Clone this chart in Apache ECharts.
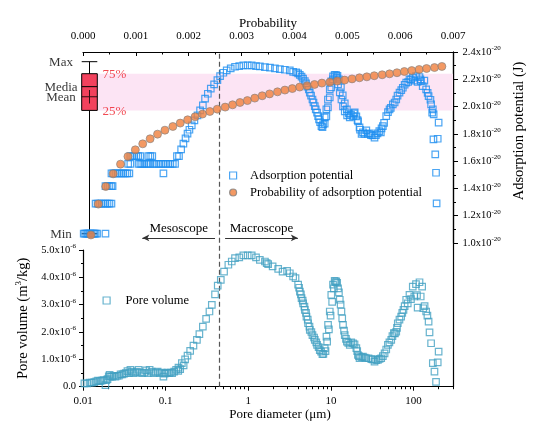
<!DOCTYPE html>
<html><head><meta charset="utf-8">
<script src="https://cdn.jsdelivr.net/npm/echarts@6/dist/echarts.min.js"></script>
<style>html,body{margin:0;padding:0;background:#fff}#c{width:540px;height:431px}</style>
</head><body><div id="c"></div>
<script>
// ---------------- data ----------------
// Adsorption potential (J, x1e-20) vs pore diameter (um) — top panel squares
const adsorptionPoints = [
[0.0102,1.068],[0.0106,1.068],[0.011,1.068],[0.0114,1.068],[0.0118,1.068],[0.0122,1.068],[0.0127,1.068],[0.0132,1.068],[0.0137,1.068],[0.0142,1.068],[0.0148,1.068],[0.0187,1.068],
[0.0142,1.288],[0.015,1.288],[0.0158,1.288],[0.0167,1.288],[0.0177,1.288],[0.0187,1.288],[0.0198,1.288],[0.0209,1.288],[0.0221,1.288],
[0.0187,1.417],[0.0198,1.417],[0.0209,1.417],[0.0221,1.417],[0.0228,1.417],
[0.0221,1.51],[0.0233,1.51],[0.0247,1.51],[0.0261,1.51],[0.0276,1.51],[0.0291,1.51],[0.0308,1.51],[0.0326,1.51],[0.0344,1.51],[0.0364,1.51],[0.094,1.51],
[0.0352,1.58],[0.0374,1.58],[0.047,1.58],[0.0494,1.58],[0.052,1.58],[0.055,1.58],[0.058,1.58],[0.0617,1.58],[0.0652,1.58],[0.0715,1.58],[0.0765,1.58],[0.082,1.58],[0.0875,1.58],[0.0935,1.58],[0.1,1.58],[0.107,1.58],[0.114,1.58],[0.122,1.58],[0.13,1.58],
[0.0374,1.637],[0.0395,1.637],[0.0418,1.637],[0.0442,1.637],[0.0467,1.637],[0.0494,1.637],[0.0617,1.637],[0.0652,1.637],[0.0689,1.637],[0.137,1.637],[0.145,1.637],
[0.154,1.686],[0.164,1.728],[0.174,1.767],[0.184,1.801],[0.194,1.83],[0.207,1.862],[0.223,1.899],[0.243,1.935],[0.261,1.972],[0.282,2.009],[0.3,2.058],[0.324,2.094],[0.352,2.131],[0.386,2.162],[0.423,2.194],[0.456,2.223],[0.499,2.248],[0.548,2.265],[0.613,2.28],[0.691,2.292],[0.778,2.297],[0.871,2.302],[0.984,2.302],[1.1,2.302],[1.24,2.297],[1.38,2.294],[1.59,2.289],[1.83,2.285],[2.1,2.28],[2.41,2.275],[2.77,2.27],[3.18,2.265],[3.49,2.254],
[3.8,2.25],[4.01,2.243],[4.2,2.232],[4.41,2.219],[4.6,2.205],[4.83,2.187],[5.0,2.17],[5.2,2.146],[5.4,2.125],[5.55,2.102],[5.75,2.08],[5.98,2.052],[6.15,2.03],[6.38,2.003],[6.55,1.98],[6.8,1.955],[7.0,1.93],[7.18,1.906],[7.4,1.885],[7.68,1.857],[7.9,1.85],
[8.03,1.869],[8.41,1.921],[8.41,1.875],[8.8,1.979],[8.8,1.928],[9.2,2.052],[9.2,1.994],[9.68,2.126],[9.68,2.067],[10.1,2.184],[10.1,2.14],[10.6,2.221],[10.6,2.2],[11.1,2.232],[11.6,2.231],[12.0,2.225],
[11.8,2.212],[12.2,2.163],[12.5,2.199],[12.8,2.104],[13.2,2.141],[13.4,2.052],[13.9,2.082],[14.0,2.001],[14.7,1.965],[14.7,2.023],[15.6,1.979],[15.7,1.935],[16.5,1.95],[16.9,1.921],[17.5,1.94],[18.5,1.93],[19.0,1.95],[19.4,1.957],[20.3,1.928],[21.0,1.9],[21.3,1.891],[22.2,1.847],[22.5,1.83],[23.5,1.8],[24.4,1.811],[25.5,1.8],[26.8,1.825],[28,1.8],[29.4,1.803],[30.5,1.79],[31.9,1.789],[33.7,1.772],[35,1.79],[36.6,1.803],[38.5,1.82],[40.2,1.811],[41,1.84],[42.5,1.857],[44,1.88],[46.7,1.93],[49,1.96],[51.2,1.979],[53,1.99],[56.1,2.016],[59,2.03],[61.7,2.052],[64,2.08],[67.6,2.102],[71,2.12],[74.1,2.138],[78,2.16],[81.5,2.175],[86,2.18],[89.2,2.199],[93,2.2],[97.8,2.212],[102,2.19],[107,2.223],[112,2.18],[118,2.216],[121,2.2],[123,2.187],[129,2.15],[135,2.19],[142,2.126],[148,2.1],[152,2.077],[160,2.05],[163,2.016],[168,1.955],[171,1.979],[175,1.943],[174,1.759],[183,1.649],[187,1.515],[190,1.29],[196,1.764],[201,1.882]
];

// Probability of adsorption potential: [probability, adsorption potential x1e-20]
const probabilityPoints = [
[0.00015,1.059],[0.00029,1.285],[0.00043,1.414],[0.00057,1.507],[0.00071,1.578],[0.00085,1.634],[0.00099,1.683],[0.00113,1.727],[0.00127,1.764],[0.00141,1.798],
[0.00155,1.827],[0.00170,1.854],[0.00184,1.879],[0.00198,1.903],[0.00212,1.925],[0.00226,1.945],[0.00240,1.964],[0.00254,1.981],[0.00269,1.996],[0.00283,2.013],
[0.00297,2.030],[0.00311,2.044],[0.00325,2.062],[0.00339,2.079],[0.00353,2.093],[0.00368,2.108],[0.00382,2.121],[0.00396,2.132],[0.00410,2.143],[0.00424,2.152],
[0.00438,2.162],[0.00452,2.172],[0.00467,2.179],[0.00481,2.187],[0.00495,2.194],[0.00509,2.203],[0.00523,2.211],[0.00537,2.218],[0.00551,2.226],[0.00566,2.233],
[0.00580,2.240],[0.00594,2.248],[0.00608,2.257],[0.00622,2.264],[0.00636,2.272],[0.00650,2.279],[0.00665,2.286],[0.00679,2.294]
];

// Pore volume (x1e-6 m3/kg) vs pore diameter (um) — bottom panel
const poreVolumePoints = [
[0.0104,0.12],[0.0112,0.12],[0.012,0.15],[0.0128,0.15],[0.0137,0.17],[0.0145,0.2],[0.0152,0.22],[0.016,0.2],[0.0168,0.22],[0.0177,0.24],[0.0187,0.06],[0.0192,0.24],[0.0198,0.28],[0.0205,0.38],[0.021,0.43],[0.0215,0.37],[0.0225,0.37],[0.0235,0.4],[0.0247,0.37],[0.026,0.4],[0.0272,0.4],[0.0285,0.45],[0.03,0.45],[0.0315,0.48],[0.033,0.5],[0.0345,0.57],[0.036,0.5],[0.0375,0.62],[0.039,0.55],[0.041,0.5],[0.043,0.52],[0.045,0.55],[0.047,0.62],[0.049,0.52],[0.052,0.5],[0.055,0.52],[0.058,0.6],[0.061,0.5],[0.064,0.62],[0.068,0.55],[0.072,0.5],[0.076,0.52],[0.08,0.55],[0.085,0.5],[0.09,0.52],[0.094,0.37],[0.097,0.48],[0.1,0.5],[0.105,0.52],[0.11,0.5],[0.115,0.52],[0.12,0.5],[0.127,0.55],[0.134,0.62],[0.142,0.58],
[0.143,0.7],[0.15,0.64],[0.157,0.86],[0.165,0.78],[0.172,1.0],[0.184,1.14],[0.198,1.31],[0.217,1.5],[0.239,1.71],[0.256,1.92],[0.282,2.2],[0.309,2.48],[0.339,2.75],[0.362,2.99],[0.396,3.38],[0.427,3.7],[0.465,3.91],[0.509,4.21],[0.574,4.46],[0.631,4.58],[0.691,4.7],[0.778,4.73],[0.871,4.8],[0.984,4.8],[1.1,4.8],[1.24,4.73],[1.38,4.64],[1.59,4.58],[1.67,4.52],[1.74,4.48],[1.97,4.4],[2.3,4.31],[2.6,4.21],[2.95,4.24],[3.18,4.15],[3.49,4.03],[3.73,3.97],
[4.01,3.73],[4.21,3.48],[4.41,3.24],[4.61,3.05],[4.83,2.81],[5.06,2.56],[5.29,2.32],[5.55,2.08],[5.98,1.89],[6.38,1.71],[6.8,1.53],[7.33,1.34],[7.89,1.19],
[4.12,3.62],[4.33,3.38],[4.55,3.15],[4.78,2.93],[5.0,2.7],[5.24,2.45],[5.5,2.2],[5.8,2.0],[6.25,1.8],[6.65,1.62],[7.1,1.45],[7.6,1.28],[8.1,1.2],
[8.41,1.41],[8.83,1.83],[9.23,2.26],[9.68,2.75],[10.1,3.36],[10.6,3.73],[11.1,3.87],[11.6,3.85],
[8.6,1.3],[9.0,1.65],[9.45,2.1],[9.9,2.6],[10.35,3.1],[10.85,3.6],[11.35,3.82],[11.9,3.8],
[12.2,3.6],[12.8,3.18],[13.4,2.75],[14.0,2.26],[14.7,1.89],[15.6,1.65],[16.9,1.53],[18.5,1.59],[20.3,1.41],[21.2,1.16],[22.2,1.04],[24.4,1.1],[26.8,1.04],[30.8,1.01],[33.7,0.92],[37.0,0.98],[40.6,1.04],[44.6,1.22],[48.9,1.53],[53.7,1.71],[57.7,1.96],[61.7,2.01],[64.4,2.32],[70.8,2.56],[75.5,2.81],[81.5,3.18],[89.2,3.36],[97.8,3.66],[107,3.75],[118,3.82],[127,3.66],[112,2.89],[131,2.87],[142,2.75],[152,2.38],[156,1.99],[163,1.59],[201,1.28],[171,0.86],[196,0.89],[179,0.55],[187,0.18],
[12.5,3.45],[13.1,3.0],[13.7,2.5],[14.4,2.05],[15.2,1.75],[16.2,1.6],[17.6,1.62],[19.3,1.55],[20.8,1.3],[21.8,1.12],[23.3,1.08],[25.6,1.06],[28.5,1.04],[32,1.0],[35.3,0.97],[38.8,1.02],[42.5,1.12],[46.7,1.36],[51,1.62],[55.5,1.85],[59.5,1.95],[63,2.15],[67.5,2.45],[73,2.7],[78,2.95],[85,3.05],[93,3.2],[102,3.3],[110,3.35],[122,3.3],[136,2.95],[147,2.6]
];

// Box plot of adsorption potential: [min, Q1, median, Q3, max], mean
const boxProbPosition = 0.000123;
const boxStats = [1.068, 1.972, 2.146, 2.241, 2.329];
const boxMean = 2.072;
const boxSideLabels = ['Max', 'Media', 'Mean', 'Min'];
const boxSideValues = [2.329, 2.146, 2.072, 1.068];
const quartileLabels = ['75%', '25%'];
const quartileValues = [2.241, 1.972];
const bandProbStart = 0.00028;

// annotations
const scaleBoundary = 0.45;          // um, dashed line
const arrowLevel = 1.037;            // adsorption potential level of the arrows
const mesoArrow = [0.0522, 0.396];   // um
const macroArrow = [0.524, 3.98];    // um

// tick values
const probTicks = {min: 0, max: 0.007, interval: 0.001};
const potentialTicks = {min: 1.0, max: 2.4, interval: 0.2};
const volumeTicks = {min: 0, max: 5e-6, interval: 1e-6};
const diameterRange = [0.01, 300];
const diameterMajor = [0.01, 0.1, 1, 10, 100];
const diameterMinor = [0.02,0.03,0.04,0.05,0.06,0.07,0.08,0.09,0.2,0.3,0.4,0.5,0.6,0.7,0.8,0.9,2,3,4,5,6,7,8,9,20,30,40,50,60,70,80,90,200,300];

// ---------------- chart ----------------
const FONT = '"Liberation Serif","Times New Roman",serif';
const BLACK = '#000';
const axisLine = {show: true, onZero: false, lineStyle: {color: BLACK, width: 1.2}};
const supRich = {
  a: {fontFamily: FONT, fontSize: 10.5, color: BLACK, lineHeight: 14},
  b: {fontFamily: FONT, fontSize: 7, color: BLACK, lineHeight: 7, verticalAlign: 'top'}
};
const gridBase = {left: 83, right: 87, containLabel: false, outerBoundsMode: 'none'};
const logLo = Math.log10(diameterRange[0]), logHi = Math.log10(diameterRange[1]);

const chart = echarts.init(document.getElementById('c'), null, {renderer: 'canvas'});
chart.setOption({
  animation: false,
  backgroundColor: '#fff',
  textStyle: {fontFamily: FONT},
  grid: [
    Object.assign({top: 52, height: 191}, gridBase),
    Object.assign({top: 250, height: 136.7}, gridBase),
    Object.assign({top: 52, height: 334.7}, gridBase)
  ],
  legend: [
    {left: 229, top: 169, orient: 'vertical', padding: 0, itemWidth: 7, itemHeight: 7, itemGap: 4, selectedMode: false,
     itemStyle: {borderWidth: 1.2},
     textStyle: {fontFamily: FONT, fontSize: 12.5, color: BLACK, padding: [0, 0, 0, 8.5]},
     data: ['Adsorption potential', 'Probability of adsorption potential']},
    {left: 102.5, top: 294, orient: 'vertical', padding: 0, itemWidth: 7, itemHeight: 7, selectedMode: false,
     itemStyle: {borderWidth: 1.2},
     textStyle: {fontFamily: FONT, fontSize: 12.5, color: BLACK, padding: [0, 0, 0, 10.5]},
     data: ['Pore volume']}
  ],
  xAxis: [
    {gridIndex: 0, type: 'log', logBase: 10, min: diameterRange[0], max: diameterRange[1], show: false},
    {gridIndex: 0, type: 'value', position: 'top', min: probTicks.min, max: probTicks.max, interval: probTicks.interval,
     name: 'Probability', nameLocation: 'middle', nameGap: 20,
     nameTextStyle: {fontFamily: FONT, fontSize: 13, color: BLACK},
     axisLine: axisLine,
     axisTick: {show: true, inside: true, length: 4, lineStyle: {color: BLACK, width: 1}},
     minorTick: {show: true, splitNumber: 2, length: 2.5, lineStyle: {color: BLACK, width: 1}},
     axisLabel: {fontFamily: FONT, fontSize: 11, color: BLACK, margin: 10, formatter: v => v.toFixed(3)},
     splitLine: {show: false}},
    {gridIndex: 1, type: 'log', logBase: 10, min: diameterRange[0], max: diameterRange[1], position: 'bottom',
     name: 'Pore diameter (\u03bcm)', nameLocation: 'middle', nameGap: 19.5,
     nameTextStyle: {fontFamily: FONT, fontSize: 13, color: BLACK, padding: [0, 0, 0, 24]},
     axisLine: axisLine, axisTick: {show: false}, splitLine: {show: false},
     axisLabel: {fontFamily: FONT, fontSize: 11, color: BLACK, margin: 9,
       formatter: v => {
         const l = Math.log10(v), k = Math.round(l);
         if (Math.abs(l - k) > 1e-6) return '';
         return k < 0 ? Math.pow(10, k).toFixed(-k) : String(Math.round(Math.pow(10, k)));
       }}},
    {gridIndex: 1, type: 'value', min: logLo, max: logHi, position: 'bottom',
     axisLine: {show: false, onZero: false}, axisLabel: {show: false}, splitLine: {show: false},
     axisTick: {show: true, length: 4, customValues: diameterMajor.map(Math.log10), lineStyle: {color: BLACK, width: 1}}},
    {gridIndex: 1, type: 'value', min: logLo, max: logHi, position: 'bottom',
     axisLine: {show: false, onZero: false}, axisLabel: {show: false}, splitLine: {show: false},
     axisTick: {show: true, length: 2.5, customValues: diameterMinor.map(Math.log10), lineStyle: {color: BLACK, width: 1}}},
    {gridIndex: 2, type: 'log', logBase: 10, min: diameterRange[0], max: diameterRange[1], show: false}
  ],
  yAxis: [
    {gridIndex: 0, type: 'value', position: 'right', min: potentialTicks.min, max: potentialTicks.max, interval: potentialTicks.interval,
     name: 'Adsorption potential (J)', nameLocation: 'middle', nameGap: 46,
     nameTextStyle: {fontFamily: FONT, fontSize: 14.5, color: BLACK, padding: [0, 0, 0, 33]},
     axisLine: axisLine,
     axisTick: {show: true, length: 5, lineStyle: {color: BLACK, width: 1}},
     minorTick: {show: true, splitNumber: 2, length: 3, lineStyle: {color: BLACK, width: 1}},
     axisLabel: {margin: 9.5, rich: supRich, formatter: v => '{a|' + v.toFixed(1) + 'x10}{b|-20}'},
     splitLine: {show: false}},
    {gridIndex: 1, type: 'value', position: 'left', min: volumeTicks.min, max: volumeTicks.max, interval: volumeTicks.interval,
     name: '{a|Pore volume (m}{s|3}{a|/kg)}', nameLocation: 'middle', nameGap: 47,
     nameTextStyle: {fontFamily: FONT, fontSize: 14.5, color: BLACK, rich: {
       a: {fontFamily: FONT, fontSize: 14.5, color: BLACK, lineHeight: 18},
       s: {fontFamily: FONT, fontSize: 9, color: BLACK, lineHeight: 9, verticalAlign: 'top'}}},
     axisLine: axisLine,
     axisTick: {show: true, length: 4, lineStyle: {color: BLACK, width: 1}},
     minorTick: {show: true, splitNumber: 2, length: 2, lineStyle: {color: BLACK, width: 1}},
     axisLabel: {margin: 7, fontFamily: FONT, fontSize: 10.5, color: BLACK, rich: supRich,
       formatter: v => v === 0 ? '{a|0.0}' : '{a|' + (v * 1e6).toFixed(1) + 'x10}{b|-6}'},
     splitLine: {show: false}},
    {gridIndex: 2, type: 'value', position: 'right', min: 0, max: 1, axisLine: axisLine,
     axisTick: {show: false}, axisLabel: {show: false}, splitLine: {show: false}}
  ],
  series: [
    {name: 'box', type: 'boxplot', xAxisIndex: 1, yAxisIndex: 0, z: 3,
     boxWidth: [15.6, 15.6],
     itemStyle: {color: '#f2415d', borderColor: BLACK, borderWidth: 1},
     emphasis: {disabled: true},
     data: [[boxProbPosition].concat(boxStats)]},
    {name: 'mean', type: 'scatter', xAxisIndex: 1, yAxisIndex: 0, z: 4, silent: true,
     symbol: 'path://M0,6.5H16V7.5H0Z M7.5,0H8.5V14H7.5Z', symbolSize: [15.6, 13.4],
     itemStyle: {color: BLACK}, data: [[boxProbPosition, boxMean]]},
    {name: 'boxLabels', type: 'scatter', xAxisIndex: 1, yAxisIndex: 0, z: 6, silent: true,
     symbolSize: 1, itemStyle: {color: 'rgba(0,0,0,0)'},
     label: {show: true, position: 'inside', offset: [-28.5, 0.8], formatter: '{b}', fontFamily: FONT, fontSize: 13, color: BLACK},
     data: boxSideLabels.map((n, i) => ({name: n, value: [boxProbPosition, boxSideValues[i]]}))},
    {name: 'quartileLabels', type: 'scatter', xAxisIndex: 1, yAxisIndex: 0, z: 6, silent: true,
     symbolSize: 1, itemStyle: {color: 'rgba(0,0,0,0)'},
     label: {show: true, position: 'inside', offset: [25, 1], formatter: '{b}', fontFamily: FONT, fontSize: 13, color: '#ee1c25'},
     data: quartileLabels.map((n, i) => ({name: n, value: [boxProbPosition, quartileValues[i]]}))},
    {name: 'Adsorption potential', type: 'scatter', xAxisIndex: 0, yAxisIndex: 0, z: 5, clip: false,
     symbol: 'rect', symbolSize: 6.5,
     itemStyle: {color: 'rgba(255,255,255,0)', borderColor: '#1e8ef0', borderWidth: 1.2},
     data: adsorptionPoints},
    {name: 'Probability of adsorption potential', type: 'scatter', xAxisIndex: 1, yAxisIndex: 0, z: 7, clip: false,
     symbol: 'circle', symbolSize: 8,
     itemStyle: {color: '#f0803c', borderColor: '#808080', borderWidth: 0.8},
     markArea: {silent: true, itemStyle: {color: '#fce4f4'},
       data: [[{xAxis: bandProbStart, yAxis: boxStats[1]}, {xAxis: probTicks.max, yAxis: boxStats[3]}]]},
     data: probabilityPoints},
    {name: 'Pore volume', type: 'scatter', xAxisIndex: 2, yAxisIndex: 1, z: 5, clip: false,
     symbol: 'rect', symbolSize: 6.5,
     itemStyle: {color: 'rgba(255,255,255,0)', borderColor: '#42a0c2', borderWidth: 1.2},
     data: poreVolumePoints.map(p => [p[0], p[1] * 1e-6])},
    {name: 'boundary', type: 'scatter', xAxisIndex: 5, yAxisIndex: 2, data: [], silent: true,
     markLine: {silent: true, symbol: 'none', label: {show: false},
       lineStyle: {color: '#555', type: [5, 3], width: 1.2},
       data: [{xAxis: scaleBoundary}]}},
    {name: 'arrows', type: 'scatter', xAxisIndex: 0, yAxisIndex: 0, data: [], silent: true,
     markLine: {silent: true, symbolSize: [5, 7],
       lineStyle: {color: '#333', type: 'solid', width: 1},
       label: {show: true, position: 'middle', distance: 3, formatter: '{b}', fontFamily: FONT, fontSize: 13, color: BLACK},
       data: [
         [{name: 'Mesoscope', coord: [mesoArrow[0], arrowLevel], symbol: 'arrow'}, {coord: [mesoArrow[1], arrowLevel], symbol: 'none'}],
         [{name: 'Macroscope', coord: [macroArrow[0], arrowLevel], symbol: 'none'}, {coord: [macroArrow[1], arrowLevel], symbol: 'arrow'}]
       ]}}
  ]
});
</script></body></html>
